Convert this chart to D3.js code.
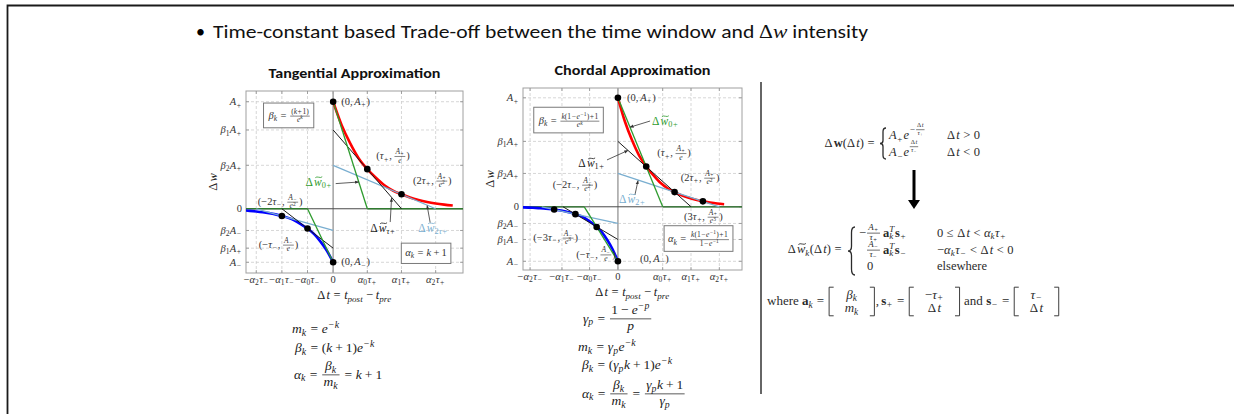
<!DOCTYPE html>
<html>
<head>
<meta charset="utf-8">
<title>Time-constant based trade-off</title>
<script src="https://cdn.jsdelivr.net/npm/d3@7"></script>
<style>
  html, body { margin: 0; padding: 0; background: #fff; }
  svg { display: block; }
</style>
</head>
<body>
<svg id="slide" width="1234" height="414"></svg>
<script>
// ---------- values ----------
let tauPlus = 20, tauMinus = 15;   // time constants (the plots are schematic)
let aPlus = 1, aMinus = -0.5;      // window amplitudes

// STDP window sampled at multiples of tau (normalised amplitude)
let curveTauSteps = [0, 0.25, 0.5, 0.75, 1, 1.25, 1.5, 1.75, 2, 2.25, 2.5, 2.75, 3, 3.25, 3.5, 3.75, 4, 4.5];
let curveShape    = [1, 0.78, 0.61, 0.47, 0.37, 0.29, 0.22, 0.17, 0.135, 0.105, 0.082, 0.064, 0.05, 0.039, 0.03, 0.024, 0.018, 0.011];

let kValues = [0, 1, 2];
let tangentAlpha = [1, 2, 3];
let tangentBeta = [1, 0.736, 0.406];
let chordAlpha = [1.582, 2.582, 3.582];
let chordBeta = [1, 0.600, 0.306];

let tangentMarkSteps = [0, 1, 2];   // dots on the curve, in units of tau
let chordMarkSteps = [0, 1, 2, 3];

let tangentYTicks = [1, 0.736, 0.406, 0, -0.203, -0.368, -0.5];
let tangentYLabels = ['A_+', 'β_1A_+', 'β_2A_+', '0', 'β_2A_−', 'β_1A_+', 'A_−'];
let chordYTicks = [1, 0.6, 0.306, 0, -0.153, -0.3, -0.5];
let chordYLabels = ['A_+', 'β_1A_+', 'β_2A_+', '0', 'β_2A_−', 'β_1A_−', 'A_−'];
let tangentXTicks = [-45, -30, -15, 0, 20, 40, 60];
let chordXTicks = [-62, -39.5, -20, 0, 31.6, 51.6, 71.6];
let xTickLabels = ['−α_2τ_−', '−α_1τ_−', '−α_0τ_−', '0', 'α_0τ_+', 'α_1τ_+', 'α_2τ_+'];

// ---------- styles ----------
const MATH_FONT = "'Liberation Serif', 'DejaVu Serif', serif";
const SLIDE_FONT = "Carlito, Calibri, Lato, 'Open Sans', sans-serif";
const INK = '#2b2b2b';
const LABEL_SIZE = 10.5;
let approxColors = ['#2e9b2e', '#1c1c1c', '#79aed0'];

let svg = d3.select('#slide');

// ---------- tiny TeX-ish layout ----------
function parseTex(src) {
    let pos = 0;
    function readGroup() {
        while (src[pos] === ' ') pos++;
        if (src[pos] === '{') {
            let depth = 0, start = pos + 1;
            for (; pos < src.length; pos++) {
                if (src[pos] === '{') depth++;
                else if (src[pos] === '}') { depth--; if (depth === 0) break; }
            }
            let inner = src.slice(start, pos);
            pos++;
            return inner;
        }
        return src[pos++];
    }
    let nodes = [];
    while (pos < src.length) {
        let c = src[pos];
        if (c === ' ') { pos++; continue; }
        if (c === '\\') {
            let m = /^\\([a-zA-Z]+|.)/.exec(src.slice(pos));
            pos += m[0].length;
            let cmd = m[1];
            if (cmd === 'frac' || cmd === 'dfrac') nodes.push({frac: [parseTex(readGroup()), parseTex(readGroup())], display: cmd === 'dfrac'});
            else if (cmd === 'tilde') nodes.push({tilde: parseTex(readGroup())});
            else if (cmd === 'b') nodes.push({bold: parseTex(readGroup())});
            else if (cmd === 'text') nodes.push({text: readGroup()});
            else if (cmd === 'vec') nodes.push({vec: [parseTex(readGroup()), parseTex(readGroup())]});
            else if (cmd === ',') nodes.push({space: 0.17});
            else if (cmd === ';') nodes.push({space: 0.28});
            continue;
        }
        if (c === '_' || c === '^') {
            pos++;
            let grp = parseTex(readGroup());
            nodes.push(c === '_' ? {sub: grp} : {sup: grp});
            continue;
        }
        if (c === '{') { nodes.push({group: parseTex(readGroup())}); continue; }
        nodes.push({ch: c});
        pos++;
    }
    return nodes;
}

let isItalic = c => /[a-zA-Zα-ω]/.test(c);

// lays nodes out on a baseline at y = 0, returns the width
function renderMath(parent, nodes, size, opts) {
    let x = 0;
    let operand = false;
    for (let i = 0; i < nodes.length; i++) {
        let n = nodes[i];
        if (n.ch !== undefined) {
            let c = n.ch === '-' ? '−' : n.ch;
            let rel = '=<>≤≥'.includes(c);
            let bin = '+−'.includes(c) && operand;
            let pad = opts.script ? ('+−'.includes(c) ? 0.07 * size : 0)
                : rel ? 0.28 * size : bin ? 0.22 * size : 0;
            x += pad;
            let t = parent.append('text')
                .attr('x', x).attr('y', 0)
                .attr('font-size', size)
                .attr('font-style', !opts.bold && isItalic(c) ? 'italic' : null)
                .attr('font-weight', opts.bold ? 'bold' : null)
                .text(c);
            x += t.node().getComputedTextLength() + pad;
            if (c === ',') x += 0.17 * size;
            if (c === 'Δ') x += 0.1 * size;      // Computer Modern's Delta is wider
            operand = !(rel || '+−(,'.includes(c));
        } else if (n.sub && nodes[i + 1] && nodes[i + 1].sup &&
                   n.sub.length === 1 && n.sub[0].ch && nodes[i + 1].sup.length === 1 && nodes[i + 1].sup[0].ch) {
            // stacked single-character scripts share one text element
            let s = size * 0.72, lo = n.sub[0].ch, hi = nodes[i + 1].sup[0].ch;
            let t = parent.append('text').attr('font-size', s);
            let a = t.append('tspan').attr('x', x).attr('y', 0.22 * size)
                .attr('font-style', isItalic(lo) ? 'italic' : null).text(lo);
            let b = t.append('tspan').attr('x', x).attr('y', -0.4 * size)
                .attr('font-style', isItalic(hi) ? 'italic' : null).text(hi);
            x += Math.max(a.node().getComputedTextLength(), b.node().getComputedTextLength()) + 0.04 * size;
            i++;
            operand = true;
        } else if (n.sub || n.sup) {
            let widths = [];
            let supNodes = n.sup;
            if (n.sub) {
                if (nodes[i + 1] && nodes[i + 1].sup) { supNodes = nodes[i + 1].sup; i++; }
                let g = parent.append('g').attr('transform', `translate(${x},${0.22 * size})`);
                widths.push(renderMath(g, n.sub, size * 0.72, {...opts, script: true}));
            }
            if (supNodes) {
                let lift = supNodes.some(d => d.frac) ? -0.55 * size : -0.38 * size;
                let g = parent.append('g').attr('transform', `translate(${x},${lift})`);
                widths.push(renderMath(g, supNodes, size * 0.72, {...opts, script: true}));
            }
            x += Math.max(...widths) + 0.04 * size;
            operand = true;
        } else if (n.frac) {
            let disp = n.display && !opts.script;
            let fs = disp ? size : size * 0.72;
            let gap = (disp ? 0.14 : 0.1) * size;
            let axis = 0.27 * size;
            x += 0.08 * size;
            let gn = parent.append('g'), gd = parent.append('g');
            let wn = renderMath(gn, n.frac[0], fs, {...opts, script: !disp});
            let wd = renderMath(gd, n.frac[1], fs, {...opts, script: !disp});
            let w = Math.max(wn, wd) + 0.2 * size;
            gn.attr('transform', `translate(${x + (w - wn) / 2},${-axis - gap - 0.2 * fs})`);
            gd.attr('transform', `translate(${x + (w - wd) / 2},${-axis + gap + 0.68 * fs})`);
            parent.append('line')
                .attr('x1', x).attr('x2', x + w).attr('y1', -axis).attr('y2', -axis)
                .attr('stroke', opts.color).attr('stroke-width', Math.max(0.6, 0.055 * size));
            x += w + 0.08 * size;
            operand = true;
        } else if (n.tilde) {
            // the wide tilde is drawn as a little wave, not as a glyph
            let g = parent.append('g').attr('transform', `translate(${x},0)`);
            let w = renderMath(g, n.tilde, size, opts);
            let cx = x + w / 2 + 0.08 * size, hw = 0.3 * size, yT = -0.72 * size, h = 0.1 * size;
            parent.append('path')
                .attr('d', `M${cx - hw},${yT + h * 0.4}C${cx - hw / 2},${yT - h * 1.4} ${cx + hw / 2},${yT + h * 1.4} ${cx + hw},${yT - h * 0.4}`)
                .attr('fill', 'none').attr('stroke', opts.color).attr('stroke-width', 0.07 * size);
            x += w;
            operand = true;
        } else if (n.bold || n.group) {
            let g = parent.append('g').attr('transform', `translate(${x},0)`);
            x += renderMath(g, n.bold || n.group, size, n.bold ? {...opts, bold: true} : opts);
            operand = true;
        } else if (n.text !== undefined) {
            let t = parent.append('text').attr('x', x).attr('y', 0)
                .attr('font-size', size).text(n.text.replace(/ /g, '\u00a0'));
            x += t.node().getComputedTextLength();
            operand = false;
        } else if (n.space) {
            x += n.space * size;
        } else if (n.vec) {
            let axis = 0.27 * size, bw = 0.35 * size, pad = 0.85 * size;
            let top = -axis - 1.1 * size, bot = -axis + 1.1 * size;
            let g1 = parent.append('g'), g2 = parent.append('g');
            let w1 = renderMath(g1, n.vec[0], size, opts);
            let w2 = renderMath(g2, n.vec[1], size, opts);
            let cw = Math.max(w1, w2);
            x += 0.1 * size;
            let cx = x + bw + pad;
            let xr = cx + cw + pad + bw;
            g1.attr('transform', `translate(${cx + (cw - w1) / 2},${-axis - 0.22 * size})`);
            g2.attr('transform', `translate(${cx + (cw - w2) / 2},${-axis + 0.82 * size})`);
            parent.append('path')
                .attr('d', `M${x + bw},${top}H${x}V${bot}H${x + bw}M${xr - bw},${top}H${xr}V${bot}H${xr - bw}`)
                .attr('fill', 'none').attr('stroke', opts.color).attr('stroke-width', 0.07 * size);
            x = xr + 0.1 * size;
            operand = true;
        }
    }
    return x;
}

function mathLabel(parent, tex, x, y, size, anchor, color) {
    color = color || INK;
    let g = parent.append('g').attr('fill', color).attr('font-family', MATH_FONT);
    let w = renderMath(g, parseTex(tex), size, {color: color});
    let dx = anchor === 'middle' ? -w / 2 : anchor === 'end' ? -w : 0;
    g.attr('transform', `translate(${x + dx},${y})`);
    return {g: g, w: w, left: x + dx};
}

function bracePath(x0, x1, yTop, yBot) {
    let xm = (x0 + x1) / 2, h = yBot - yTop, mid = (yTop + yBot) / 2;
    return `M${x1},${yTop}Q${xm},${yTop} ${xm},${yTop + h * 0.12}L${xm},${mid - h * 0.1}` +
        `Q${xm},${mid} ${x0},${mid}Q${xm},${mid} ${xm},${mid + h * 0.1}` +
        `L${xm},${yBot - h * 0.12}Q${xm},${yBot} ${x1},${yBot}`;
}

// ---------- slide furniture ----------
svg.append('defs').append('marker')
    .attr('id', 'tip').attr('viewBox', '0 0 6 6').attr('refX', 5.5).attr('refY', 3)
    .attr('markerWidth', 5).attr('markerHeight', 5).attr('orient', 'auto')
    .append('path').attr('d', 'M0,0.6L6,3L0,5.4Z').attr('fill', '#333');

svg.append('path').attr('d', 'M7.5,414V5.5H1234')
    .attr('fill', 'none').attr('stroke', '#1a1a1a').attr('stroke-width', 1.8);

svg.append('text').attr('x', 196).attr('y', 38)
    .attr('font-family', SLIDE_FONT).attr('font-size', 18).text('•');
let heading = svg.append('text').attr('x', 213).attr('y', 38)
    .attr('font-family', SLIDE_FONT).attr('font-size', 18).attr('fill', '#111')
    .attr('textLength', 655).attr('lengthAdjust', 'spacingAndGlyphs');
heading.append('tspan').text('Time-constant based Trade-off between the time window and ');
heading.append('tspan').attr('font-family', MATH_FONT).text('Δ');
heading.append('tspan').attr('font-family', MATH_FONT).attr('font-style', 'italic').text('w');
heading.append('tspan').text(' intensity');

// ---------- the two panels ----------
let panels = [
    {
        title: 'Tangential Approximation', titleWidth: 172,
        alpha: tangentAlpha, beta: tangentBeta, marks: tangentMarkSteps,
        yTicks: tangentYTicks, yLabels: tangentYLabels, xTicks: tangentXTicks,
        redEnd: 3.5,
        frame: {x0: 246, x1: 463, y0: 91, y1: 273},
        xDomain: [-51, 76], yDomain: [-0.6, 1.1],
        pointNotes: [
            {tex: '(0, A_+)', at: [4.7, 1.0], anchor: 'start'},
            {tex: '(τ_+, \\frac{A_+}{e})', at: [35, 0.49], anchor: 'middle'},
            {tex: '(2τ_+, \\frac{A_+}{e^2})', at: [58, 0.26], anchor: 'middle'},
            {tex: '(−2τ_−, \\frac{A_−}{e^2})', at: [-31, 0.063], anchor: 'middle'},
            {tex: '(−τ_−, \\frac{A_−}{e})', at: [-32, -0.338], anchor: 'middle'},
            {tex: '(0, A_−)', at: [4.7, -0.5], anchor: 'start'}
        ],
        approxNotes: [
            {tex: 'Δ\\tilde{w}_{0+}', k: 0, at: [-0.6, 0.25], anchor: 'end', arrow: [[1.5, 0.235], [15, 0.25]]},
            {tex: 'Δ\\tilde{w}_{τ+}', k: 1, at: [29.2, -0.18], anchor: 'middle', arrow: [[33.4, -0.124], [34.2, 0.1]]},
            {tex: 'Δ\\tilde{w}_{2τ+}', k: 2, at: [58.5, -0.18], anchor: 'middle', arrow: [[56.8, -0.13], [55, 0.03]]}
        ],
        boxes: [
            {tex: 'β_k = \\frac{(k+1)}{e^k}', at: [-25.5, 0.867]},
            {tex: 'α_k = k + 1', at: [54.4, -0.41]}
        ]
    },
    {
        title: 'Chordal Approximation', titleWidth: 156,
        alpha: chordAlpha, beta: chordBeta, marks: chordMarkSteps,
        yTicks: chordYTicks, yLabels: chordYLabels, xTicks: chordXTicks,
        redEnd: 3.75,
        frame: {x0: 523, x1: 742, y0: 88, y1: 270},
        xDomain: [-67, 87.6], yDomain: [-0.58, 1.09],
        pointNotes: [
            {tex: '(0, A_+)', at: [6.4, 1.0], anchor: 'start'},
            {tex: '(τ_+, \\frac{A_+}{e})', at: [39.6, 0.49], anchor: 'middle'},
            {tex: '(2τ_+, \\frac{A_+}{e^2})', at: [58, 0.264], anchor: 'middle'},
            {tex: '(3τ_+, \\frac{A_+}{e^3})', at: [60.4, -0.094], anchor: 'middle'},
            {tex: '(−2τ_−, \\frac{A_−}{e^2})', at: [-30.3, 0.2], anchor: 'middle'},
            {tex: '(−3τ_−, \\frac{A_−}{e^3})', at: [-44, -0.286], anchor: 'middle'},
            {tex: '(−τ_−, \\frac{A_−}{e})', at: [-15.5, -0.44], anchor: 'middle'},
            {tex: '(0, A_−)', at: [15.6, -0.48], anchor: 'start'}
        ],
        approxNotes: [
            {tex: 'Δ\\tilde{w}_{0+}', k: 0, at: [24.1, 0.787], anchor: 'start', arrow: [[22.7, 0.787], [8.5, 0.73]]},
            {tex: 'Δ\\tilde{w}_{1+}', k: 1, at: [-9.1, 0.4], anchor: 'end', arrow: [[-7.7, 0.43], [7.1, 0.517]]},
            {tex: 'Δ\\tilde{w}_{2+}', k: 2, at: [0.8, 0.07], anchor: 'start', arrow: [[12, 0.108], [14.2, 0.24]]}
        ],
        boxes: [
            {tex: 'β_k = \\frac{k(1−e^{−1})+1}{e^k}', at: [-34.2, 0.787]},
            {tex: 'α_k = \\frac{k(1−e^{−1})+1}{1−e^{−1}}', at: [57.2, -0.3]}
        ]
    }
];

function drawPanel(p, idx) {
    let g = svg.append('g').attr('class', 'panel');
    let f = p.frame;
    let x = d3.scaleLinear().domain(p.xDomain).range([f.x0, f.x1]);
    let y = d3.scaleLinear().domain(p.yDomain).range([f.y1, f.y0]);

    g.append('text')
        .attr('x', (f.x0 + f.x1) / 2).attr('y', f.y0 - 13)
        .attr('text-anchor', 'middle').attr('font-family', SLIDE_FONT)
        .attr('font-weight', 'bold').attr('font-size', 13.5).attr('fill', '#111')
        .attr('textLength', p.titleWidth).attr('lengthAdjust', 'spacingAndGlyphs')
        .text(p.title);

    // dashed grid
    let grid = g.append('g').attr('stroke', '#cdcdcd').attr('stroke-width', 0.8).attr('stroke-dasharray', '3,2');
    grid.selectAll('line.v').data(p.xTicks.filter(d => d !== 0)).join('line')
        .attr('class', 'v')
        .attr('x1', d => x(d)).attr('x2', d => x(d)).attr('y1', f.y0).attr('y2', f.y1);
    grid.selectAll('line.h').data(p.yTicks.filter(d => d !== 0)).join('line')
        .attr('class', 'h')
        .attr('y1', d => y(d)).attr('y2', d => y(d)).attr('x1', f.x0).attr('x2', f.x1);

    g.append('rect')
        .attr('x', f.x0).attr('y', f.y0).attr('width', f.x1 - f.x0).attr('height', f.y1 - f.y0)
        .attr('fill', 'none').attr('stroke', '#a0a0a0').attr('stroke-width', 1);

    // little inward tick marks on all four sides
    let ticks = g.append('g').attr('stroke', '#909090').attr('stroke-width', 0.8);
    p.xTicks.forEach(d => {
        ticks.append('line').attr('x1', x(d)).attr('x2', x(d)).attr('y1', f.y1).attr('y2', f.y1 - 3);
        ticks.append('line').attr('x1', x(d)).attr('x2', x(d)).attr('y1', f.y0).attr('y2', f.y0 + 3);
    });
    p.yTicks.forEach(d => {
        ticks.append('line').attr('y1', y(d)).attr('y2', y(d)).attr('x1', f.x0).attr('x2', f.x0 + 3);
        ticks.append('line').attr('y1', y(d)).attr('y2', y(d)).attr('x1', f.x1).attr('x2', f.x1 - 3);
    });

    // zero axes
    g.append('line').attr('x1', x(0)).attr('x2', x(0)).attr('y1', f.y0).attr('y2', f.y1)
        .attr('stroke', '#a8a8a8').attr('stroke-width', 1.6);
    g.append('line').attr('x1', f.x0).attr('x2', f.x1).attr('y1', y(0)).attr('y2', y(0))
        .attr('stroke', '#4a4a4a').attr('stroke-width', 1);
    [[p.xDomain[0], -p.alpha[0] * tauMinus], [p.alpha[0] * tauPlus, p.xDomain[1]]].forEach(seg => {
        g.append('line').attr('x1', x(seg[0])).attr('x2', x(seg[1])).attr('y1', y(0)).attr('y2', y(0))
            .attr('stroke', '#2f7a2f').attr('stroke-width', 1.3);
    });

    let clipId = 'frame-clip-' + idx;
    g.append('clipPath').attr('id', clipId).append('rect')
        .attr('x', f.x0).attr('y', f.y0).attr('width', f.x1 - f.x0).attr('height', f.y1 - f.y0);
    let plot = g.append('g').attr('clip-path', `url(#${clipId})`);

    let smooth = d3.line().x(d => x(d[0])).y(d => y(d[1])).curve(d3.curveMonotoneX);
    let straight = d3.line().x(d => x(d[0])).y(d => y(d[1]));

    let plusWindow = curveTauSteps.map((s, i) => [s * tauPlus, aPlus * curveShape[i]])
        .filter(d => d[0] <= p.redEnd * tauPlus);
    let minusWindow = curveTauSteps.map((s, i) => [-s * tauMinus, aMinus * curveShape[i]]).reverse();

    plot.append('path').datum(plusWindow).attr('d', smooth)
        .attr('fill', 'none').attr('stroke', '#ff0000').attr('stroke-width', 2.6);
    plot.append('path').datum(minusWindow).attr('d', smooth)
        .attr('fill', 'none').attr('stroke', '#0000ff').attr('stroke-width', 2.6);

    // approximating lines, drawn k = 2, 1, 0 so the green one ends on top
    [...kValues].reverse().forEach(k => {
        let segs = [
            [[0, p.beta[k] * aPlus], [p.alpha[k] * tauPlus, 0]],
            [[-p.alpha[k] * tauMinus, 0], [0, p.beta[k] * aMinus]]
        ];
        plot.selectAll(null).data(segs).join('path')
            .attr('d', straight)
            .attr('fill', 'none').attr('stroke', approxColors[k])
            .attr('stroke-width', k === 1 ? 1 : 1.3);
    });

    // dots on the window
    let dots = [];
    p.marks.forEach(s => {
        let v = curveShape[curveTauSteps.indexOf(s)];
        dots.push([s * tauPlus, aPlus * v], [-s * tauMinus, aMinus * v]);
    });
    g.selectAll('circle.dot').data(dots).join('circle')
        .attr('class', 'dot')
        .attr('cx', d => x(d[0])).attr('cy', d => y(d[1])).attr('r', 3.3)
        .attr('fill', '#000');

    // tick labels
    p.yTicks.forEach((v, i) => mathLabel(g, p.yLabels[i], f.x0 - 4, y(v) + 3.5, LABEL_SIZE, 'end', '#333'));
    p.xTicks.forEach((v, i) => mathLabel(g, xTickLabels[i], x(v), f.y1 + 10, LABEL_SIZE, 'middle', '#333'));

    // axis titles
    mathLabel(g, 'Δt = t_{post} − t_{pre}', (f.x0 + f.x1) / 2, f.y1 + 26, 12.5, 'middle', '#222');
    let yTitle = g.append('g').attr('transform', `translate(${f.x0 - 33},${(f.y0 + f.y1) / 2}) rotate(-90)`);
    mathLabel(yTitle, 'Δw', 0, 4, 12.5, 'middle', '#222');

    // annotations
    p.pointNotes.forEach(n => mathLabel(g, n.tex, x(n.at[0]), y(n.at[1]) + 3, LABEL_SIZE, n.anchor, '#333'));
    p.approxNotes.forEach(n => {
        g.append('line')
            .attr('x1', x(n.arrow[0][0])).attr('y1', y(n.arrow[0][1]))
            .attr('x2', x(n.arrow[1][0])).attr('y2', y(n.arrow[1][1]))
            .attr('stroke', '#333').attr('stroke-width', 0.8).attr('marker-end', 'url(#tip)');
        mathLabel(g, n.tex, x(n.at[0]), y(n.at[1]) + 3.5, 11.5, n.anchor, approxColors[n.k]);
    });
    p.boxes.forEach(b => {
        let lab = mathLabel(g, b.tex, x(b.at[0]), y(b.at[1]) + 3, LABEL_SIZE, 'middle', '#333');
        let bb = lab.g.node().getBBox();
        g.insert('rect', () => lab.g.node())
            .attr('x', lab.left + bb.x - 4).attr('y', y(b.at[1]) + 3 + bb.y - 3.5)
            .attr('width', bb.width + 8).attr('height', bb.height + 7)
            .attr('fill', '#fff').attr('stroke', '#7a7a7a').attr('stroke-width', 1);
    });
}

panels.forEach(drawPanel);

// ---------- formulas under the panels ----------
let formulaLines = [
    {tex: 'm_k = e^{−k}', x: 292, y: 333},
    {tex: 'β_k = (k + 1)e^{−k}', x: 295, y: 352},
    {tex: 'α_k = \\dfrac{β_k}{m_k} = k + 1', x: 294, y: 378.5},
    {tex: 'γ_p = \\dfrac{1 − e^{−p}}{p}', x: 583, y: 322.5},
    {tex: 'm_k = γ_pe^{−k}', x: 578, y: 351},
    {tex: 'β_k = (γ_pk + 1)e^{−k}', x: 582, y: 369},
    {tex: 'α_k = \\dfrac{β_k}{m_k} = \\dfrac{γ_pk + 1}{γ_p}', x: 582, y: 397.5}
];
formulaLines.forEach(d => mathLabel(svg, d.tex, d.x, d.y, 13.5, 'start', '#222'));

// separator
svg.append('line').attr('x1', 761).attr('x2', 761).attr('y1', 82).attr('y2', 394)
    .attr('stroke', '#333').attr('stroke-width', 1.5);

// ---------- right-hand definitions ----------
let EQ = 12.5;
mathLabel(svg, 'Δ\\b{w}(Δt) =', 878, 147, EQ, 'end');
svg.append('path').attr('d', bracePath(880, 886, 128, 159))
    .attr('fill', 'none').attr('stroke', INK).attr('stroke-width', 1.3);
mathLabel(svg, 'A_+e^{−\\frac{Δt}{τ_+}}', 889, 139, EQ, 'start');
mathLabel(svg, 'Δt > 0', 947, 139, EQ, 'start');
mathLabel(svg, 'A_−e^{\\frac{Δt}{τ_−}}', 889, 156, EQ, 'start');
mathLabel(svg, 'Δt < 0', 947, 156, EQ, 'start');

svg.append('line').attr('x1', 914).attr('x2', 914).attr('y1', 170).attr('y2', 201)
    .attr('stroke', '#000').attr('stroke-width', 3);
svg.append('path').attr('d', 'M908,200L920,200L914,209Z').attr('fill', '#000');

mathLabel(svg, 'Δ\\tilde{w}_k(Δt) =', 845, 253, EQ, 'end');
svg.append('path').attr('d', bracePath(848, 855, 227, 275))
    .attr('fill', 'none').attr('stroke', INK).attr('stroke-width', 1.3);
mathLabel(svg, '−\\frac{A_+}{τ_+}\\,\\b{a}_k^T\\b{s}_+', 859, 236.5, EQ, 'start');
mathLabel(svg, '0 ≤ Δt < α_kτ_+', 937, 236.5, EQ, 'start');
mathLabel(svg, '\\frac{A_−}{τ_−}\\,\\b{a}_k^T\\b{s}_−', 866, 253.5, EQ, 'start');
mathLabel(svg, '−α_kτ_− < Δt < 0', 937, 253.5, EQ, 'start');
mathLabel(svg, '0', 867, 269.5, EQ, 'start');
mathLabel(svg, '\\text{elsewhere}', 937, 269.5, EQ, 'start');

mathLabel(svg, '\\text{where }\\b{a}_k = \\vec{β_k}{m_k}, \\b{s}_+ = \\vec{−τ_+}{Δt}\\text{ and }\\b{s}_− = \\vec{τ_−}{Δt}',
    767, 305, 13, 'start');
</script>
</body>
</html>
